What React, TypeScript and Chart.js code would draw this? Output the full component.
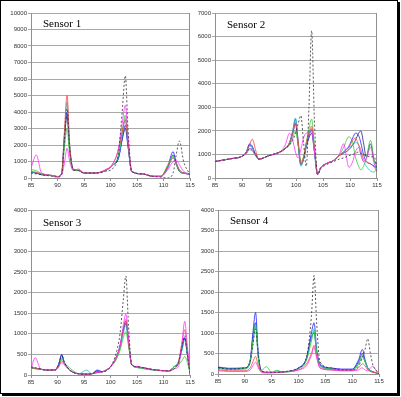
import React, { useEffect, useRef } from 'react';
import { Chart, registerables } from 'chart.js';
Chart.register(...registerables);

// ---- Data ----
const SERIES_NAMES = ['S-a', 'S-b', 'S-c', 'S-d', 'S-e', 'S-f', 'S-g'];
const SERIES_COLORS = ['#303030', '#ff33ff', '#ff4040', '#33cc33', '#20c8c8', '#2020ff', '#202080'];
const TITLES = ['Sensor 1', 'Sensor 2', 'Sensor 3', 'Sensor 4'];
const Y_MAX = [10000, 7000, 4000, 4000];
const Y_STEP = [1000, 1000, 500, 500];
const X_MIN = 85;
const X_MAX = 115;
const X_STEP = 5;

// Sensor 1
const X1 = [85, 86, 87, 89, 90, 90.8, 91.3, 91.8, 92.3, 93, 94, 95, 97, 99, 100.5, 101.5, 102.2, 102.8, 103.3, 104, 106, 108, 109.5, 110.8, 111.8, 112.4, 113, 113.8, 115];
const S1_A = [300, 250, 200, 100, 50, 200, 2200, 4200, 1800, 500, 450, 300, 300, 400, 600, 1500, 4000, 6200, 3000, 400, 250, 100, 50, 0, 300, 1400, 2250, 1000, 200];
const S1_B = [600, 1400, 300, 150, 100, 200, 900, 1800, 1000, 450, 550, 300, 300, 500, 900, 1800, 3300, 4400, 2500, 400, 250, 100, 100, 500, 1000, 1100, 800, 400, 250];
const S1_C = [400, 350, 250, 150, 80, 300, 2800, 5000, 2000, 500, 500, 300, 300, 450, 900, 1700, 2800, 3500, 2200, 400, 250, 100, 100, 700, 1200, 900, 500, 300, 250];
const S1_D = [500, 450, 250, 150, 80, 300, 1800, 3000, 1400, 450, 450, 300, 300, 450, 800, 1400, 2800, 3800, 2300, 400, 250, 100, 100, 800, 1300, 800, 400, 300, 250];
const S1_E = [350, 300, 250, 150, 80, 300, 2600, 4600, 2000, 500, 450, 300, 300, 450, 800, 1300, 2600, 3600, 2200, 400, 250, 100, 100, 600, 1300, 900, 500, 300, 250];
const S1_F = [350, 300, 200, 150, 80, 300, 2500, 4000, 1800, 500, 450, 300, 300, 450, 800, 1200, 2400, 3200, 2000, 400, 250, 100, 100, 700, 1600, 900, 400, 300, 200];
const S1_G = [350, 300, 200, 150, 80, 300, 2300, 3800, 1700, 500, 450, 300, 300, 450, 800, 1200, 2300, 3000, 1900, 400, 250, 100, 100, 600, 1400, 900, 400, 300, 250];

// Sensor 2
const X2 = [85, 88, 90, 90.8, 91.4, 91.9, 92.5, 93.1, 95, 97, 98, 98.8, 99.4, 99.9, 100.4, 100.9, 101.4, 101.9, 102.4, 102.9, 103.4, 104, 104.6, 105.5, 107, 108, 108.8, 109.8, 110.5, 111, 111.6, 112, 112.5, 113, 113.8, 114.5, 115];
const S2_A = [700, 820, 920, 1050, 1250, 1200, 1000, 800, 950, 1100, 1250, 1400, 1600, 1900, 2300, 2650, 1500, 500, 3000, 6250, 2500, 150, 400, 550, 700, 800, 850, 950, 1000, 1050, 1100, 1050, 1000, 950, 900, 900, 300];
const S2_B = [700, 820, 920, 1050, 1250, 1200, 950, 800, 950, 1100, 1400, 1900, 1600, 1100, 850, 1200, 1700, 1900, 1900, 2000, 1200, 150, 450, 600, 750, 1000, 1450, 450, 700, 1100, 1300, 1000, 700, 800, 1300, 600, 400];
const S2_C = [700, 820, 920, 1100, 1400, 1650, 1200, 800, 950, 1100, 1250, 1500, 1900, 2350, 1600, 600, 900, 1500, 1900, 2200, 1300, 150, 450, 600, 750, 950, 1100, 1300, 1600, 1700, 1400, 1200, 800, 700, 600, 450, 300];
const S2_D = [700, 820, 920, 1050, 1200, 1150, 950, 800, 950, 1100, 1250, 1400, 1700, 2000, 1400, 700, 900, 1500, 2100, 2500, 1400, 150, 450, 600, 750, 950, 1300, 1750, 1500, 900, 500, 350, 500, 800, 1600, 700, 400];
const S2_E = [700, 820, 920, 1100, 1350, 1300, 1000, 800, 950, 1100, 1250, 1500, 2000, 2550, 1500, 500, 800, 1400, 1900, 2100, 1200, 150, 450, 600, 750, 950, 1100, 1300, 1400, 1500, 1400, 1000, 700, 500, 300, 250, 500];
const S2_F = [700, 820, 920, 1100, 1450, 1350, 1000, 800, 950, 1100, 1250, 1500, 2000, 2500, 1500, 550, 800, 1400, 1800, 2050, 1200, 150, 450, 600, 750, 950, 1100, 1350, 1700, 1900, 1800, 1500, 1000, 700, 600, 500, 400];
const S2_G = [700, 820, 920, 1100, 1400, 1300, 1000, 800, 950, 1100, 1250, 1450, 1900, 2300, 1400, 600, 800, 1300, 1700, 1900, 1100, 150, 450, 600, 750, 950, 1050, 1200, 1400, 1600, 1900, 2000, 1500, 900, 1450, 700, 600];

// Sensor 3
const X3 = [85, 85.8, 86.8, 88, 89.5, 90.2, 90.8, 91.3, 92.5, 94, 95.5, 96.5, 97.5, 98.5, 100, 101, 101.8, 102.4, 102.9, 103.4, 104, 105, 108, 111, 112, 112.8, 113.5, 114, 114.5, 115];
const S3_A = [200, 180, 150, 120, 120, 250, 450, 300, 100, 30, 20, 30, 80, 80, 200, 500, 1000, 1800, 2400, 1200, 250, 200, 130, 100, 150, 300, 700, 950, 500, 50];
const S3_B = [150, 420, 150, 120, 120, 200, 300, 250, 100, 30, 20, 30, 60, 80, 200, 400, 700, 1200, 1480, 900, 250, 200, 130, 100, 150, 200, 800, 1300, 700, 50];
const S3_C = [180, 160, 140, 120, 120, 200, 350, 250, 100, 30, 20, 30, 60, 80, 200, 400, 700, 1100, 1350, 800, 250, 200, 130, 100, 150, 300, 800, 1100, 600, 50];
const S3_D = [170, 160, 140, 120, 120, 200, 400, 300, 150, 30, 20, 30, 60, 80, 200, 350, 600, 900, 1050, 700, 250, 180, 120, 100, 200, 250, 350, 450, 300, 50];
const S3_E = [160, 150, 140, 120, 120, 200, 400, 280, 100, 30, 120, 30, 60, 80, 200, 400, 650, 1000, 1200, 800, 250, 180, 120, 100, 200, 300, 600, 850, 500, 50];
const S3_F = [170, 160, 140, 120, 120, 250, 500, 300, 100, 30, 20, 30, 120, 80, 200, 400, 700, 1050, 1250, 800, 250, 200, 130, 100, 200, 300, 650, 900, 500, 50];
const S3_G = [180, 160, 140, 120, 120, 250, 480, 300, 100, 30, 20, 30, 100, 80, 200, 400, 700, 1100, 1300, 800, 250, 200, 130, 100, 200, 300, 650, 900, 500, 50];

// Sensor 4
const X4 = [85, 87, 90, 91, 91.5, 92, 92.5, 93, 94, 95, 96, 97, 100, 101.5, 102.4, 102.9, 103.4, 104, 106, 108, 110, 111.2, 111.9, 112.4, 112.9, 113.4, 113.9, 114.4, 115];
const S4_A = [150, 120, 150, 300, 700, 1100, 500, 100, 50, 40, 40, 50, 150, 400, 1400, 2400, 1200, 300, 150, 100, 100, 200, 400, 600, 860, 500, 200, 100, 0];
const S4_B = [80, 60, 60, 100, 200, 290, 150, 50, 30, 30, 40, 50, 100, 200, 450, 650, 400, 150, 100, 80, 80, 100, 150, 100, 80, 150, 190, 100, 0];
const S4_C = [100, 80, 80, 150, 300, 430, 200, 60, 30, 30, 40, 50, 100, 250, 500, 700, 400, 150, 100, 80, 80, 150, 250, 200, 100, 60, 40, 30, 0];
const S4_D = [130, 110, 120, 300, 800, 1150, 400, 80, 180, 40, 90, 50, 130, 350, 800, 1050, 500, 200, 120, 100, 100, 250, 450, 300, 150, 80, 50, 30, 0];
const S4_E = [140, 120, 130, 300, 750, 1200, 400, 80, 40, 40, 80, 50, 130, 350, 850, 1100, 500, 200, 120, 100, 100, 250, 400, 300, 150, 80, 50, 30, 0];
const S4_F = [170, 140, 150, 350, 1000, 1500, 500, 100, 40, 40, 40, 50, 150, 400, 1000, 1250, 600, 250, 150, 120, 120, 350, 600, 350, 150, 80, 50, 30, 0];
const S4_G = [160, 130, 140, 300, 900, 1250, 450, 100, 40, 40, 40, 50, 140, 380, 900, 1000, 500, 220, 130, 110, 110, 300, 500, 300, 150, 80, 50, 30, 0];

const SENSOR_X = [X1, X2, X3, X4];
const SENSOR_Y = [
  [S1_A, S1_B, S1_C, S1_D, S1_E, S1_F, S1_G],
  [S2_A, S2_B, S2_C, S2_D, S2_E, S2_F, S2_G],
  [S3_A, S3_B, S3_C, S3_D, S3_E, S3_F, S3_G],
  [S4_A, S4_B, S4_C, S4_D, S4_E, S4_F, S4_G],
];

// ---- Layout (positions & sizes) ----
const PANELS = [
  { left: 0, top: 0, w: 200, h: 197, yWidth: 31, padTop: 13, padRight: 10, xHeight: 19, tLeft: 43, tTop: 18 },
  { left: 190, top: 0, w: 200, h: 197, yWidth: 25, padTop: 13, padRight: 13, xHeight: 19, tLeft: 227, tTop: 19 },
  { left: 0, top: 197, w: 200, h: 197, yWidth: 31, padTop: 13, padRight: 10, xHeight: 19, tLeft: 43, tTop: 217 },
  { left: 190, top: 197, w: 200, h: 197, yWidth: 28, padTop: 13, padRight: 11, xHeight: 20, tLeft: 230, tTop: 215 },
];

const plotBorder = {
  id: 'plotBorder',
  beforeDatasetsDraw(chart: any) {
    const { ctx, chartArea } = chart;
    ctx.save();
    ctx.strokeStyle = '#909090';
    ctx.lineWidth = 1;
    ctx.beginPath();
    const x = Math.round(chartArea.right) - 0.5;
    ctx.moveTo(x, chartArea.top);
    ctx.lineTo(x, chartArea.bottom);
    ctx.stroke();
    ctx.restore();
  },
};

function Panel({ idx }: { idx: number }) {
  const ref = useRef<HTMLCanvasElement | null>(null);
  const p = PANELS[idx];
  useEffect(() => {
    if (!ref.current) return;
    const xs = SENSOR_X[idx];
    const datasets = SENSOR_Y[idx].map((ys, s) => ({
      label: SERIES_NAMES[s],
      data: xs.map((x, i) => ({ x, y: ys[i] })),
      borderColor: SERIES_COLORS[s],
      backgroundColor: SERIES_COLORS[s],
      borderWidth: 0.8,
      borderDash: s === 0 ? [2, 2] : [],
      pointRadius: 0,
      cubicInterpolationMode: 'monotone' as const,
      fill: false,
    }));
    const tickFont = { family: 'Liberation Sans', size: 6 };
    const chart = new Chart(ref.current, {
      type: 'line',
      data: { datasets },
      options: {
        animation: false,
        responsive: false,
        devicePixelRatio: 1,
        layout: { padding: { top: p.padTop, right: p.padRight, left: 0, bottom: 0 } },
        plugins: { legend: { display: false }, tooltip: { enabled: false }, title: { display: false } },
        scales: {
          x: {
            type: 'linear',
            min: X_MIN,
            max: X_MAX,
            ticks: {
              stepSize: X_STEP, font: tickFont, color: '#333', padding: 1, maxRotation: 0, autoSkip: false,
              callback: (v: any) => String(v),
            },
            grid: { display: true, drawOnChartArea: false, drawTicks: true, tickLength: 3, color: '#909090' },
            border: { display: true, color: '#909090' },
            afterFit: (scale: any) => { scale.height = p.xHeight; },
          },
          y: {
            min: 0,
            max: Y_MAX[idx],
            ticks: { stepSize: Y_STEP[idx], font: tickFont, color: '#333', padding: 1, callback: (v: any) => String(v) },
            grid: { display: true, drawTicks: true, tickLength: 3, color: '#a8a8a8' },
            border: { display: true, color: '#909090' },
            afterFit: (scale: any) => { scale.width = p.yWidth; },
          },
        },
      },
      plugins: [plotBorder],
    });
    return () => chart.destroy();
  }, [idx]);
  return (
    <>
      <canvas
        ref={ref}
        width={p.w}
        height={p.h}
        style={{ position: 'absolute', left: p.left, top: p.top, width: p.w, height: p.h }}
      />
      <div
        style={{
          position: 'absolute',
          left: p.tLeft,
          top: p.tTop,
          fontFamily: '"Liberation Serif", "Times New Roman", serif',
          fontSize: 11,
          lineHeight: '11px',
          color: '#000',
          whiteSpace: 'nowrap',
        }}
      >
        {TITLES[idx]}
      </div>
    </>
  );
}

export default function App() {
  return (
    <div style={{ position: 'absolute', left: 0, top: 0, width: 401, height: 397, background: '#fff', overflow: 'hidden' }}>
      <div
        style={{
          position: 'absolute',
          left: 0,
          top: 0,
          width: 398,
          height: 394,
          boxSizing: 'border-box',
          border: '1px solid #000',
          boxShadow: '2px 2px 0 #000',
        }}
      />
      {[0, 1, 2, 3].map((i) => (
        <Panel key={i} idx={i} />
      ))}
    </div>
  );
}
